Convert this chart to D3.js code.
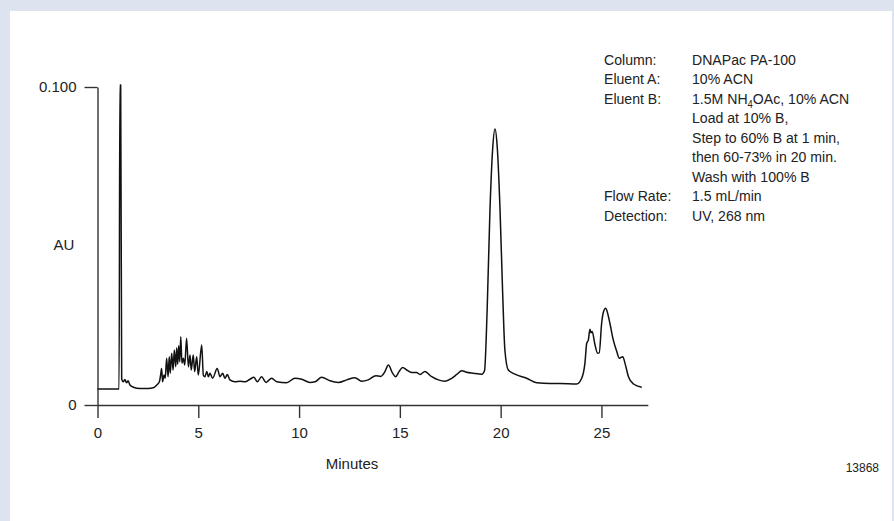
<!DOCTYPE html>
<html>
<head>
<meta charset="utf-8">
<script src="https://cdn.jsdelivr.net/npm/d3@7"></script>
<style>
  html, body { margin: 0; padding: 0; background: #dde4ef; }
  svg { display: block; }
  text { font-family: "Liberation Sans", Arial, sans-serif; fill: #222; }
</style>
</head>
<body>
<svg id="chart" width="894" height="521"></svg>
<script>
// Retention time (min)
const times = [
  0.00, 1.05, 1.07, 1.11, 1.15, 1.20, 1.28, 1.36, 1.44, 1.52, 1.61, 1.78, 2.11, 2.52, 2.77, 2.94,
  3.07, 3.13, 3.18, 3.23, 3.30, 3.36, 3.43, 3.50, 3.56, 3.61, 3.68, 3.75, 3.81, 3.88, 3.93, 3.98,
  4.03, 4.08, 4.13, 4.19, 4.26, 4.33, 4.42, 4.51, 4.59, 4.65, 4.75, 4.82, 4.92, 5.00, 5.17, 5.25,
  5.33, 5.42, 5.50, 5.58, 5.71, 5.94, 6.08, 6.21, 6.32, 6.44, 6.57, 6.82, 7.07, 7.32, 7.56, 7.76,
  7.93, 8.14, 8.36, 8.64, 8.89, 9.38, 9.80, 10.13, 10.54, 10.79, 11.12, 11.53, 11.95, 12.36, 12.77, 13.10,
  13.43, 13.81, 14.05, 14.26, 14.43, 14.64, 14.79, 14.96, 15.14, 15.34, 15.58, 15.83, 16.00, 16.24, 16.58, 16.91,
  17.24, 17.57, 17.82, 18.07, 18.31, 18.64, 19.06, 19.20, 19.33, 19.47, 19.60, 19.72, 19.83, 19.97, 20.10, 20.21,
  20.38, 20.71, 21.29, 21.79, 22.45, 22.94, 23.77, 24.02, 24.18, 24.27, 24.35, 24.43, 24.48, 24.54, 24.68, 24.81,
  24.89, 25.01, 25.09, 25.21, 25.31, 25.42, 25.59, 25.76, 25.89, 26.06, 26.17, 26.34, 26.59, 27.00
];

// Absorbance at 268 nm (AU)
const absorbance = [
  0.0050, 0.0050, 0.0050, 0.1006, 0.1006, 0.0082, 0.0073, 0.0080, 0.0070, 0.0076, 0.0063, 0.0056, 0.0052, 0.0052, 0.0054, 0.0063,
  0.0073, 0.0094, 0.0115, 0.0073, 0.0094, 0.0084, 0.0147, 0.0089, 0.0152, 0.0100, 0.0163, 0.0110, 0.0173, 0.0120, 0.0180, 0.0128,
  0.0186, 0.0136, 0.0215, 0.0131, 0.0147, 0.0126, 0.0210, 0.0120, 0.0157, 0.0110, 0.0157, 0.0105, 0.0152, 0.0094, 0.0189, 0.0094,
  0.0089, 0.0105, 0.0089, 0.0100, 0.0084, 0.0115, 0.0089, 0.0100, 0.0084, 0.0096, 0.0079, 0.0073, 0.0075, 0.0073, 0.0081, 0.0087,
  0.0073, 0.0089, 0.0071, 0.0084, 0.0073, 0.0070, 0.0084, 0.0081, 0.0071, 0.0073, 0.0087, 0.0076, 0.0071, 0.0079, 0.0086, 0.0075,
  0.0079, 0.0092, 0.0090, 0.0105, 0.0126, 0.0100, 0.0089, 0.0105, 0.0118, 0.0110, 0.0102, 0.0102, 0.0096, 0.0105, 0.0089, 0.0079,
  0.0075, 0.0084, 0.0096, 0.0108, 0.0103, 0.0100, 0.0097, 0.0108, 0.0299, 0.0613, 0.0802, 0.0868, 0.0812, 0.0613, 0.0351, 0.0173,
  0.0110, 0.0097, 0.0084, 0.0070, 0.0068, 0.0068, 0.0066, 0.0084, 0.0131, 0.0194, 0.0204, 0.0238, 0.0227, 0.0231, 0.0189, 0.0163,
  0.0164, 0.0257, 0.0290, 0.0304, 0.0288, 0.0257, 0.0204, 0.0168, 0.0147, 0.0152, 0.0131, 0.0089, 0.0066, 0.0056
];

const xTicks = [0, 5, 10, 15, 20, 25];
const yTicks = [0, 0.1];

// Method conditions: label column and value column
const methodLabels = ["Column:", "Eluent A:", "Eluent B:", "", "", "", "", "Flow Rate:", "Detection:"];
const methodValues = [
  "DNAPac PA-100",
  "10% ACN",
  "1.5M NH|4|OAc, 10% ACN",
  "Load at 10% B,",
  "Step to 60% B at 1 min,",
  "then 60-73% in 20 min.",
  "Wash with 100% B",
  "1.5 mL/min",
  "UV, 268 nm"
];
const figureNumber = "13868";

const svg = d3.select("#chart");

// white panel
svg.append("rect")
  .attr("x", 10).attr("y", 11)
  .attr("width", 882).attr("height", 510)
  .attr("fill", "#ffffff");

const x = d3.scaleLinear().domain([0, 27.3]).range([97.5, 647.8]);
const y = d3.scaleLinear().domain([0, 0.1]).range([405, 87]);

const axisColor = "#333";

// x axis
const gx = svg.append("g")
  .attr("transform", `translate(0,${y(0)})`)
  .call(d3.axisBottom(x).tickValues(xTicks).tickSize(13).tickSizeOuter(0).tickPadding(9).tickFormat(d3.format("d")));

// y axis
const gy = svg.append("g")
  .attr("transform", `translate(${x(0)},0)`)
  .call(d3.axisLeft(y).tickValues(yTicks).tickSize(13).tickSizeOuter(0).tickPadding(8)
    .tickFormat(d => d === 0 ? "0" : d3.format(".3f")(d)));

[gx, gy].forEach(g => {
  g.select(".domain").attr("stroke", axisColor).attr("stroke-width", 1.4);
  g.selectAll(".tick line").attr("stroke", axisColor).attr("stroke-width", 1.4);
  g.selectAll(".tick text").attr("font-size", 15).attr("fill", "#222");
  g.attr("font-family", null);
});

// axis titles
svg.append("text")
  .attr("x", 352).attr("y", 469)
  .attr("text-anchor", "middle")
  .attr("font-size", 15)
  .text("Minutes");

svg.append("text")
  .attr("x", 64).attr("y", 250)
  .attr("text-anchor", "middle")
  .attr("font-size", 15)
  .text("AU");

// chromatogram trace
const pts = times.map((t, i) => [t, absorbance[i]]);
const line = d3.line()
  .x(d => x(d[0]))
  .y(d => y(d[1]))
  .curve(d3.curveMonotoneX);

svg.append("path")
  .datum(pts)
  .attr("d", line)
  .attr("fill", "none")
  .attr("stroke", "#111")
  .attr("stroke-width", 1.5)
  .attr("stroke-linejoin", "round");

// method conditions block (slightly narrowed type)
const squeeze = 0.94;
const lineH = 19.5;
const blockTop = 65;
const tg = svg.append("g").attr("transform", `translate(604,0) scale(${squeeze},1)`);
methodLabels.forEach((lab, i) => {
  if (lab) {
    tg.append("text")
      .attr("x", 0).attr("y", blockTop + i * lineH)
      .attr("font-size", 15)
      .text(lab);
  }
});
methodValues.forEach((val, i) => {
  const t = tg.append("text")
    .attr("x", (692 - 604) / squeeze).attr("y", blockTop + i * lineH)
    .attr("font-size", 15);
  const parts = val.split("|");
  parts.forEach((p, j) => {
    const ts = t.append("tspan").text(p);
    if (j === 1) ts.attr("dy", 4).attr("font-size", 10);
    if (j === 2) ts.attr("dy", -4);
  });
});

svg.append("text")
  .attr("x", 879).attr("y", 472)
  .attr("text-anchor", "end")
  .attr("font-size", 12)
  .text(figureNumber);
</script>
</body>
</html>
